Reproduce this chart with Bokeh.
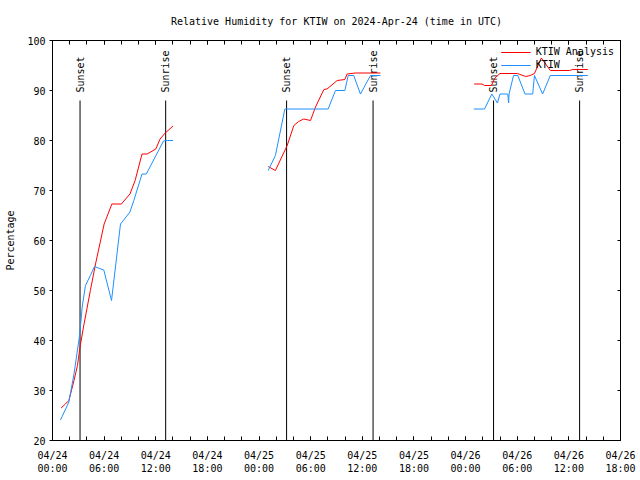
import math
from bokeh.plotting import figure
from bokeh.models import (Range1d, FixedTicker, Legend, LegendItem, LinearAxis, CustomJSTickFormatter)
from bokeh.core.properties import value
from bokeh.embed import file_html
from bokeh.resources import INLINE

NAN = float("nan")

TITLE = "Relative Humidity for KTIW on 2024-Apr-24 (time in UTC)"
Y_LABEL = "Percentage"

# x values: hours since 2024-04-24 00:00 UTC
tick_hours = [0, 6, 12, 18, 24, 30, 36, 42, 48, 54, 60, 66]
tick_labels = ["04/24\n00:00", "04/24\n06:00", "04/24\n12:00", "04/24\n18:00",
               "04/25\n00:00", "04/25\n06:00", "04/25\n12:00", "04/25\n18:00",
               "04/26\n00:00", "04/26\n06:00", "04/26\n12:00", "04/26\n18:00"]
minor_hours = list(range(0, 67, 2))
y_ticks = [20, 30, 40, 50, 60, 70, 80, 90, 100]

# KTIW Analysis (red)
analysis_hours = [1.0, 1.5, 1.9, 2.5, 2.9, 3.2, 3.6, 4.4, 5.0, 6.0, 6.9, 8.0, 9.0, 9.6, 10.4, 11.0, 12.0, 12.5, 13.1, 14.0,
                  NAN,
                  25.06, 25.9, 27.27, 28.04, 28.6, 29.2, 29.98, 30.56, 31.53, 31.9, 33.08, 33.97, 34.24, 35.2, 38.1,
                  NAN,
                  49.0, 49.9, 50.2, 51.0, 51.4, 52.0, 54.0, 55.0, 55.5, 56.0, 56.8, 57.85, 60.1, 60.4, 62.2]
analysis_rh = [26.5, 27.3, 28.0, 32.0, 35.0, 38.7, 42.7, 50.0, 55.3, 63.3, 67.3, 67.3, 69.3, 72.0, 77.3, 77.3, 78.3, 80.3, 81.5, 82.9,
               NAN,
               74.8, 74.0, 79.0, 83.0, 83.8, 84.3, 84.0, 86.7, 90.2, 90.3, 92.0, 92.2, 93.3, 93.5, 93.5,
               NAN,
               91.3, 91.3, 91.0, 91.0, 92.5, 93.4, 93.4, 92.8, 93.0, 93.4, 96.5, 94.0, 94.0, 94.2, 94.2]

# KTIW observations (blue)
obs_hours = [0.93, 1.9, 2.5, 3.17, 3.45, 3.83, 4.4, 4.88, 5.96, 6.86, 7.9, 9.0, 9.45, 10.4, 10.9, 12.9, 13.4, 14.0,
             NAN,
             25.06, 25.9, 27.0, 32.03, 32.88, 33.97, 34.36, 35.0, 35.78, 36.95, 38.1,
             NAN,
             48.96, 50.2, 51.05, 51.7, 52.0, 52.9, 53.0, 53.05, 53.57, 54.07, 54.9, 55.8, 56.0, 56.95, 57.84, 62.2]
obs_rh = [24.1, 27.7, 33.3, 41.3, 46.7, 51.0, 53.0, 54.8, 54.1, 48.0, 63.3, 65.7, 68.0, 73.3, 73.3, 79.9, 80.0, 80.0,
          NAN,
          74.0, 77.0, 86.3, 86.3, 90.0, 90.0, 93.0, 93.0, 89.3, 93.0, 93.0,
          NAN,
          86.3, 86.3, 89.3, 87.5, 89.3, 89.3, 87.5, 89.3, 93.0, 93.0, 89.3, 89.3, 93.0, 89.3, 93.0, 93.0]

sun_hours = [3.2, 13.15, 27.2, 37.25, 51.25, 61.25]
sun_labels = ["Sunset", "Sunrise", "Sunset", "Sunrise", "Sunset", "Sunrise"]
SUN_LINE_TOP = 88.0
SUN_TEXT_Y = 89.6

FONT = "DejaVu Sans Mono"
FS = "10px"

p = figure(width=640, height=480, output_backend="svg", toolbar_location=None,
           x_range=Range1d(0, 66), y_range=Range1d(20, 100),
           min_border_left=52, min_border_right=20, min_border_top=40, min_border_bottom=40,
           title=TITLE)
p.title.text_font = FONT
p.title.text_font_size = FS
p.title.text_font_style = "normal"
p.title.text_color = "black"
p.title.align = "center"
p.title.standoff = 27
p.grid.visible = False
p.outline_line_color = "black"
p.outline_line_width = 1
p.background_fill_color = "white"
p.border_fill_color = "white"

xa = p.xaxis[0]
xa.ticker = FixedTicker(ticks=tick_hours, minor_ticks=minor_hours)
xa.major_label_overrides = {h: lab for h, lab in zip(tick_hours, tick_labels)}
xa.major_tick_in = 4
xa.major_tick_out = 0
xa.minor_tick_in = 4
xa.minor_tick_out = 0
xa.major_label_standoff = 9
xa.major_label_text_font = FONT
xa.major_label_text_font_size = FS
xa.major_label_text_color = "black"
xa.axis_line_color = "black"
xa.major_tick_line_color = "black"
xa.minor_tick_line_color = "black"

ya = p.yaxis[0]
ya.ticker = FixedTicker(ticks=y_ticks, minor_ticks=[])
ya.major_tick_in = 0
ya.major_tick_out = 3
ya.minor_tick_in = 0
ya.minor_tick_out = 0
ya.major_label_standoff = 4
ya.major_label_text_font = FONT
ya.major_label_text_font_size = FS
ya.major_label_text_color = "black"
ya.axis_label = Y_LABEL
ya.axis_label_text_font = FONT
ya.axis_label_text_font_size = FS
ya.axis_label_text_font_style = "normal"
ya.axis_label_text_color = "black"
ya.axis_label_standoff = 8
ya.axis_line_color = "black"
ya.major_tick_line_color = "black"

# mirrored tick marks on the top and right borders (no labels)
blank = CustomJSTickFormatter(code="return ''")
top_axis = LinearAxis(ticker=FixedTicker(ticks=tick_hours, minor_ticks=minor_hours), formatter=blank,
                      major_tick_in=4, major_tick_out=0, minor_tick_in=4, minor_tick_out=0,
                      major_label_standoff=0, axis_line_color="black")
p.add_layout(top_axis, "above")
right_axis = LinearAxis(ticker=FixedTicker(ticks=y_ticks, minor_ticks=[]), formatter=blank,
                        major_tick_in=3, major_tick_out=0, minor_tick_in=0, minor_tick_out=0,
                        major_label_standoff=0, axis_line_color="black")
p.add_layout(right_axis, "right")

# sunrise / sunset lines
p.segment(x0=sun_hours, y0=[20] * len(sun_hours), x1=sun_hours, y1=[SUN_LINE_TOP] * len(sun_hours),
          line_color="black", line_width=1)
p.text(x=sun_hours, y=[SUN_TEXT_Y] * len(sun_hours), text=sun_labels, angle=math.pi / 2,
       text_align="left", text_baseline="middle", text_font=value(FONT), text_font_size=FS,
       text_color="black")

r_an = p.line(analysis_hours, analysis_rh, line_color="#ff0000", line_width=1)
r_ob = p.line(obs_hours, obs_rh, line_color="#1e90ff", line_width=1)

legend = Legend(items=[LegendItem(label="KTIW Analysis", renderers=[r_an]),
                       LegendItem(label="KTIW", renderers=[r_ob])],
                location="top_right", label_text_font=FONT, label_text_font_size=FS,
                label_text_color="black",
                background_fill_alpha=0, border_line_alpha=0, glyph_width=30, glyph_height=10,
                label_height=10, spacing=2, padding=2, margin=4)
p.add_layout(legend)

open("out.html", "w").write(file_html(p, INLINE))
